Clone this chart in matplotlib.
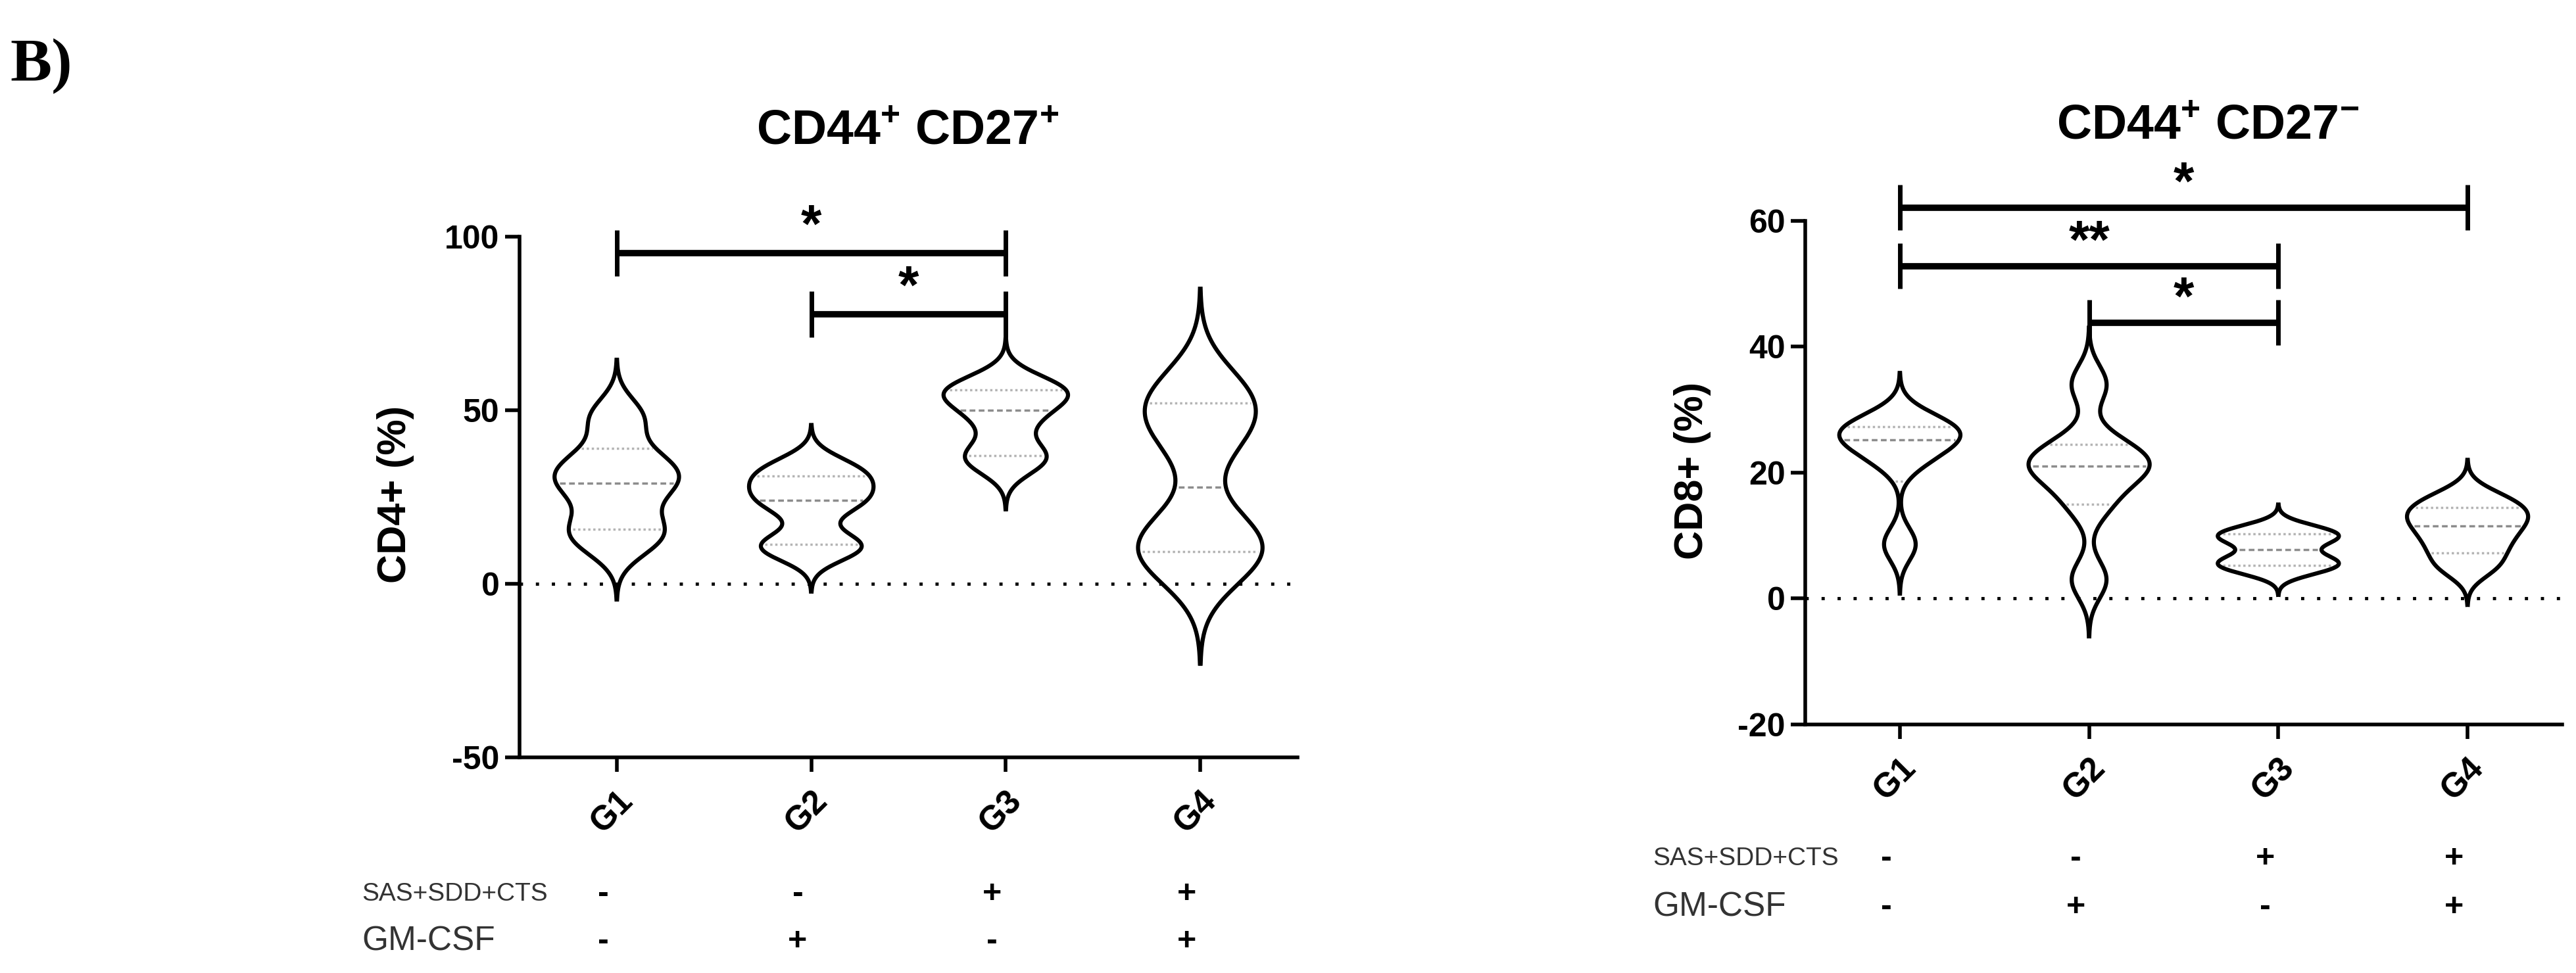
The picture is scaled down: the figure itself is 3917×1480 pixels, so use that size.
import numpy as np
import matplotlib
matplotlib.use('Agg')
import matplotlib.pyplot as plt
from matplotlib import mlab
import matplotlib.transforms as mtransforms

plt.rcParams['font.family'] = ['Liberation Sans Narrow', 'Liberation Sans', 'DejaVu Sans']
plt.rcParams['mathtext.fontset'] = 'custom'
plt.rcParams['mathtext.rm'] = 'Liberation Sans'
plt.rcParams['mathtext.bf'] = 'Liberation Sans:bold'

groups = ['G1', 'G2', 'G3', 'G4']

# CD4+ : CD44+ CD27+ (%) per animal, estimated from the violins
cd4_g1 = [12, 17, 27, 31, 36, 48]
cd4_g2 = [9.5, 12, 22, 26, 30, 34]
cd4_g3 = [35, 37.5, 47, 53, 55.5, 57]
cd4_g4 = [7, 10, 14, 41.5, 51, 55]
cd4_bw = [5.5, 3.9, 4.5, 10.0]      # kde smoothing per group

# CD8+ : CD44+ CD27- (%)
cd8_g1 = [8.6, 22, 24.5, 26, 27, 28]
cd8_g2 = [3, 15, 19.5, 21, 22, 24.5, 34]
cd8_g3 = [4.5, 5.5, 6.5, 9, 10, 11]
cd8_g4 = [5, 8, 10.5, 12.5, 14, 16]
cd8_bw = [2.6, 3.0, 1.3, 2.0]

# significance: (from, to, label)
cd4_sig = [(0, 2, '*'), (1, 2, '*')]
cd4_sig_y = [95.3, 77.6]
cd8_sig = [(0, 3, '*'), (0, 2, '**'), (1, 2, '*')]
cd8_sig_y = [62.1, 52.8, 43.8]

sas = ['-', '-', '+', '+']
gmcsf = ['-', '+', '-', '+']

W, H = 3917, 1480
fig = plt.figure(figsize=(W / 100, H / 100), dpi=100)


def fx(px):
    return px / W


def fy(py):
    return 1 - py / H


def violin(ax, x, vals, bw):
    vals = np.asarray(vals, float)
    kde = mlab.GaussianKDE(vals, bw_method=bw / vals.std(ddof=1))
    ys = np.linspace(vals.min() - 3 * bw, vals.max() + 3 * bw, 500)
    dens = kde.evaluate(ys)
    hw = 0.32 * dens / dens.max()
    ax.fill_betweenx(ys, x - hw, x + hw, facecolor='white', edgecolor='none', zorder=2)
    ax.plot(x - hw, ys, color='black', lw=4.5, zorder=4)
    ax.plot(x + hw, ys, color='black', lw=4.5, zorder=4)
    q1, med, q3 = np.percentile(vals, [25, 50, 75], method='weibull')
    for q, ls, c in [(q1, (0, (1, 1.2)), '#b4b4b4'), (med, (0, (2.5, 1.5)), '#8c8c8c'),
                     (q3, (0, (1, 1.2)), '#b4b4b4')]:
        w = np.interp(q, ys, hw) - 0.02
        ax.plot([x - w, x + w], [q, q], color=c, lw=2.5, ls=ls, zorder=3)


def panel(rect, data, bws, ylim, bounds, yticks, sig, sig_y, cap, star_off, title, title_xy,
          ylabel, ylabel_xy, row_y, label_x):
    ax = fig.add_axes(rect)
    ax.set_xlim(-0.5, 3.5)
    ax.set_ylim(*ylim)
    for s in ['top', 'right']:
        ax.spines[s].set_visible(False)
    for s in ['left', 'bottom']:
        ax.spines[s].set_linewidth(4)
    ax.spines['left'].set_bounds(*bounds)
    ax.set_yticks(yticks)
    ax.set_yticklabels([str(t) for t in yticks], fontsize=36, fontweight='bold')
    ax.set_xticks(range(4))
    ax.set_xticklabels(groups, rotation=45, ha='right', va='top', rotation_mode='anchor',
                       fontsize=37, fontweight='bold')
    ax.tick_params(axis='both', width=4, length=16)
    ax.tick_params(axis='y', pad=6)
    ax.tick_params(axis='x', pad=14)
    ax.axhline(0, color='black', lw=3.5, ls=(0, (1, 4)), zorder=3)
    for i, (vals, bw) in enumerate(zip(data, bws)):
        violin(ax, i, vals, bw)
    for (a, b, lab), y in zip(sig, sig_y):
        ax.plot([a, b], [y, y], color='black', lw=7, solid_capstyle='butt', zorder=5)
        for xx in (a, b):
            ax.plot([xx, xx], [y - cap, y + cap], color='black', lw=5,
                    solid_capstyle='butt', zorder=5)
        ax.annotate(lab, xy=((a + b) / 2, y + star_off), xytext=(0, -32),
                    textcoords='offset points', ha='center', va='baseline',
                    fontsize=58, fontweight='bold', annotation_clip=False)
    fig.text(fx(title_xy[0]), fy(title_xy[1]), title, ha='center', va='baseline',
             fontsize=53, fontweight='bold')
    fig.text(fx(ylabel_xy[0]), fy(ylabel_xy[1]), ylabel, ha='center', va='center',
             rotation=90, fontsize=44, fontweight='bold')
    tr = mtransforms.blended_transform_factory(ax.transData, fig.transFigure)
    fig.text(fx(label_x), fy(row_y[0]), 'SAS+SDD+CTS', ha='left', va='center',
             fontsize=28, color='#333333')
    fig.text(fx(label_x), fy(row_y[1]), 'GM-CSF', ha='left', va='center',
             fontsize=37, color='#333333')
    for i in range(4):
        for sym, yy in [(sas[i], row_y[0]), (gmcsf[i], row_y[1])]:
            ax.text(i - 0.07, fy(yy), sym, transform=tr, ha='center', va='center',
                    fontsize=36, fontweight='bold')
    return ax


# left panel: y=100 at 360 px, y=-50 at 1152 px
panel([fx(790), fy(1152), fx(1973) - fx(790), (1152 - 228) / H],
      [cd4_g1, cd4_g2, cd4_g3, cd4_g4], cd4_bw, (-50, 125), (-50, 100), [-50, 0, 50, 100],
      cd4_sig, cd4_sig_y, 6.6, 11.7,
      r'CD44$^{\mathbf{+}}$ CD27$^{\mathbf{+}}$', (1380, 219),
      'CD4+ (%)', (601, 752), (1360, 1432), 550)

# right panel: y=60 at 336 px, y=-20 at 1102 px
panel([fx(2745), fy(1102), fx(3896) - fx(2745), (1102 - 192) / H],
      [cd8_g1, cd8_g2, cd8_g3, cd8_g4], cd8_bw, (-20, 75), (-20, 60), [-20, 0, 20, 40, 60],
      cd8_sig, cd8_sig_y, 3.6, 6.0,
      r'CD44$^{\mathbf{+}}$ CD27$^{\mathbf{-}}$', (3357, 211),
      'CD8+ (%)', (2574, 716), (1306, 1380), 2513)

fig.text(fx(15), fy(123), 'B)', ha='left', va='baseline', fontsize=68, fontweight='bold',
         family=['Liberation Serif', 'DejaVu Serif'])

fig.savefig('out.png', dpi=100, facecolor='white')
